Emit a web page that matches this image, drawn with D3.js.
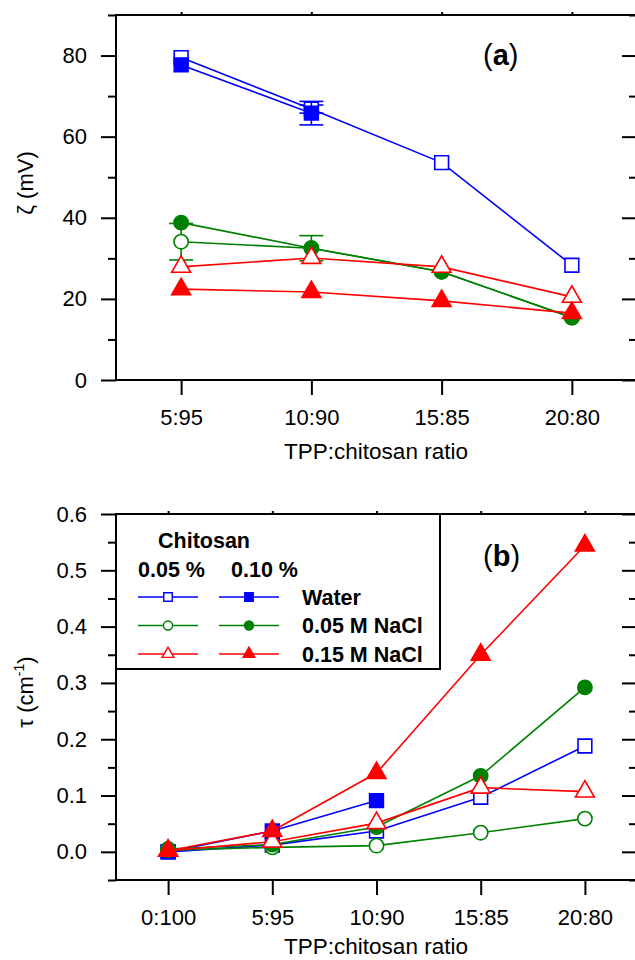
<!DOCTYPE html>
<html>
<head>
<meta charset="utf-8">
<script src="https://cdn.jsdelivr.net/npm/d3@7"></script>
<style>
  body { margin: 0; background: #fff; }
  svg { display: block; font-family: "Liberation Sans", Arial, Helvetica, sans-serif; }
</style>
</head>
<body>
<svg id="chart" width="635" height="960"></svg>
<script>
// ---- data ----
var catsA = ["5:95", "10:90", "15:85", "20:80"];
var catsB = ["0:100", "5:95", "10:90", "15:85", "20:80"];

// (a) zeta potential, mV
var zetaWater005 = [79.5, 66.8, 53.6, 28.3];
var zetaWater010 = [77.7, 65.8, null, null];
var zetaNa005_005 = [34.1, 32.5, 26.7, 15.4];
var zetaNa005_010 = [38.8, 32.5, 26.7, 15.4];
var zetaNa015_005 = [27.9, 30.1, 27.9, 20.5];
var zetaNa015_010 = [22.4, 21.7, 19.5, 16.5];
// error bars (half width), 0 = none
var errWater005 = [0, 1.0, 0, 0];
var errWater010 = [0, 2.9, 0, 0];
var errNa005_005 = [4.5, 3.1, 0, 0];

// (b) turbidity, cm-1
var tauWater005 = [0.000, 0.012, 0.037, 0.097, 0.188];
var tauWater010 = [0.000, 0.037, 0.091, null, null];
var tauNa005_005 = [0.003, 0.008, 0.011, 0.034, 0.059];
var tauNa005_010 = [0.005, 0.013, 0.044, 0.135, 0.292];
var tauNa015_005 = [0.002, 0.018, 0.051, 0.114, 0.107];
var tauNa015_010 = [0.002, 0.037, 0.140, 0.350, 0.544];

var zetaMajor = [0, 20, 40, 60, 80];
var zetaMinor = [10, 30, 50, 70, 90];
var tauMajor = [0, 0.1, 0.2, 0.3, 0.4, 0.5, 0.6];
var tauMinor = [-0.05, 0.05, 0.15, 0.25, 0.35, 0.45, 0.55];

var blue = "#0000ff", green = "#008000", red = "#ff0000";

var svg = d3.select("#chart");

function marker(shape, size) {
    var t = shape == "square" ? d3.symbolSquare : shape == "circle" ? d3.symbolCircle : d3.symbolTriangle;
    return d3.symbol().type(t).size(size);
}

function panel(opt) {
    var g = svg.append("g");
    var x = d3.scaleLinear().domain([-0.5, opt.cats.length - 0.5]).range([116, 637]);
    var y = d3.scaleLinear().domain(opt.ydom).range([opt.bottom, opt.top]);
    var idx = d3.range(opt.cats.length);

    // ticks
    g.append("g").attr("transform", "translate(116,0)")
        .call(d3.axisLeft(y).tickValues(opt.major).tickSize(15).tickPadding(14).tickFormat(opt.fmt))
        .call(function (a) { a.select(".domain").remove(); });
    g.append("g").attr("transform", "translate(116,0)")
        .call(d3.axisLeft(y).tickValues(opt.minor).tickSize(8).tickFormat(""))
        .call(function (a) { a.select(".domain").remove(); });
    g.append("g").attr("transform", "translate(637,0)")
        .call(d3.axisLeft(y).tickValues(opt.major).tickSize(15).tickFormat(""))
        .call(function (a) { a.select(".domain").remove(); });
    g.append("g").attr("transform", "translate(637,0)")
        .call(d3.axisLeft(y).tickValues(opt.minor).tickSize(8).tickFormat(""))
        .call(function (a) { a.select(".domain").remove(); });
    g.append("g").attr("transform", "translate(0," + opt.bottom + ")")
        .call(d3.axisBottom(x).tickValues(idx).tickSize(15).tickPadding(14)
            .tickFormat(function (i) { return opt.cats[i]; }))
        .call(function (a) { a.select(".domain").remove(); });
    g.append("g").attr("transform", "translate(0," + opt.top + ")")
        .call(d3.axisTop(x).tickValues(idx).tickSize(3).tickFormat(""))
        .call(function (a) { a.select(".domain").remove(); });
    g.selectAll(".tick line").attr("stroke", "#000").attr("stroke-width", 2);
    g.selectAll(".tick text").attr("font-size", 22).attr("fill", "#000")
        .attr("font-family", "Liberation Sans, Arial, sans-serif");

    // frame
    g.append("path")
        .attr("d", "M637," + opt.top + "H116V" + opt.bottom + "H637V" + opt.top)
        .attr("fill", "none").attr("stroke", "#000").attr("stroke-width", 2);

    var line = d3.line()
        .defined(function (d) { return d != null; })
        .x(function (d, i) { return x(i); })
        .y(function (d) { return y(d); });

    opt.series.forEach(function (s) {
        var sg = g.append("g");
        sg.append("path").datum(s.values).attr("d", line)
            .attr("fill", "none").attr("stroke", s.color).attr("stroke-width", 1.6);
        if (s.err) {
            s.values.forEach(function (v, i) {
                var e = s.err[i];
                if (v == null || !e) return;
                var eb = sg.append("g").attr("stroke", s.color).attr("stroke-width", 1.6);
                eb.append("line").attr("x1", x(i)).attr("x2", x(i)).attr("y1", y(v - e)).attr("y2", y(v + e));
                [v - e, v + e].forEach(function (c) {
                    eb.append("line").attr("x1", x(i) - 12).attr("x2", x(i) + 12)
                        .attr("y1", y(c)).attr("y2", y(c));
                });
            });
        }
        sg.selectAll("path.pt")
            .data(s.values.map(function (v, i) { return [i, v]; }).filter(function (d) { return d[1] != null; }))
            .enter().append("path").attr("class", "pt")
            .attr("transform", function (d) { return "translate(" + x(d[0]) + "," + y(d[1]) + ")"; })
            .attr("d", marker(s.shape, s.shape == "square" ? 190 : s.shape == "circle" ? 160 : 155))
            .attr("fill", s.filled ? s.color : "#fff")
            .attr("stroke", s.color).attr("stroke-width", 1.6);
    });

    // axis titles
    g.append("text").attr("x", 376).attr("y", opt.titleY)
        .attr("text-anchor", "middle").attr("font-size", 22.5).text("TPP:chitosan ratio");

    // panel letter
    var lt = g.append("text").attr("x", 483).attr("y", opt.top + opt.letterDy).attr("font-size", 29);
    lt.append("tspan").text("(");
    lt.append("tspan").attr("font-weight", "bold").text(opt.letter);
    lt.append("tspan").text(")");
    return { g: g, x: x, y: y };
}

var pa = panel({
    cats: catsA, ydom: [0, 90], top: 15, bottom: 380, titleY: 459,
    major: zetaMajor, minor: zetaMinor, fmt: d3.format("d"),
    letter: "a", letterDy: 50,
    series: [
        { values: zetaWater005, err: errWater005, color: blue, shape: "square", filled: false },
        { values: zetaWater010, err: errWater010, color: blue, shape: "square", filled: true },
        { values: zetaNa005_005, err: errNa005_005, color: green, shape: "circle", filled: false },
        { values: zetaNa005_010, color: green, shape: "circle", filled: true },
        { values: zetaNa015_005, color: red, shape: "triangle", filled: false },
        { values: zetaNa015_010, color: red, shape: "triangle", filled: true }
    ]
});

pa.g.append("text").attr("transform", "translate(33,183) rotate(-90)")
    .attr("text-anchor", "middle").attr("font-size", 22).text("\u03B6 (mV)");

var pb = panel({
    cats: catsB, ydom: [-0.05, 0.6], top: 514, bottom: 880, titleY: 954,
    major: tauMajor, minor: tauMinor, fmt: d3.format(".1f"),
    letter: "b", letterDy: 52,
    series: [
        { values: tauWater005, color: blue, shape: "square", filled: false },
        { values: tauWater010, color: blue, shape: "square", filled: true },
        { values: tauNa005_005, color: green, shape: "circle", filled: false },
        { values: tauNa005_010, color: green, shape: "circle", filled: true },
        { values: tauNa015_005, color: red, shape: "triangle", filled: false },
        { values: tauNa015_010, color: red, shape: "triangle", filled: true }
    ]
});

var yt = pb.g.append("text").attr("transform", "translate(33,692) rotate(-90)")
    .attr("text-anchor", "middle").attr("font-size", 22);
yt.append("tspan").text("\u03C4 (cm");
yt.append("tspan").attr("font-size", 14).attr("dy", -9).text("-1");
yt.append("tspan").attr("dy", 9).text(")");

// ---- legend ----
var legRows = ["Water", "0.05 M NaCl", "0.15 M NaCl"];
var legColors = [blue, green, red];
var legShapes = ["square", "circle", "triangle"];
var lg = svg.append("g");
lg.append("path").attr("d", "M116,669H440V514")
    .attr("fill", "none").attr("stroke", "#000").attr("stroke-width", 2);
lg.append("text").attr("x", 158).attr("y", 548).attr("font-size", 21.5).attr("font-weight", "bold").text("Chitosan");
lg.append("text").attr("x", 138).attr("y", 577).attr("font-size", 21.5).attr("font-weight", "bold").text("0.05 %");
lg.append("text").attr("x", 231).attr("y", 577).attr("font-size", 21.5).attr("font-weight", "bold").text("0.10 %");
var rowY = d3.scalePoint().domain(legRows).range([597, 654]);
legRows.forEach(function (r, k) {
    var yy = rowY(r);
    [[138, 198, false], [219, 279, true]].forEach(function (c) {
        lg.append("line").attr("x1", c[0]).attr("x2", c[1]).attr("y1", yy).attr("y2", yy)
            .attr("stroke", legColors[k]).attr("stroke-width", 1.6);
        lg.append("path").attr("transform", "translate(" + ((c[0] + c[1]) / 2) + "," + yy + ")")
            .attr("d", marker(legShapes[k], legShapes[k] == "square" ? 72 : legShapes[k] == "circle" ? 64 : 60))
            .attr("fill", c[2] ? legColors[k] : "#fff")
            .attr("stroke", legColors[k]).attr("stroke-width", 1.4);
    });
    lg.append("text").attr("x", 302).attr("y", yy + 7.5).attr("font-size", 21.5)
        .attr("font-weight", "bold").text(r);
});
</script>
</body>
</html>
